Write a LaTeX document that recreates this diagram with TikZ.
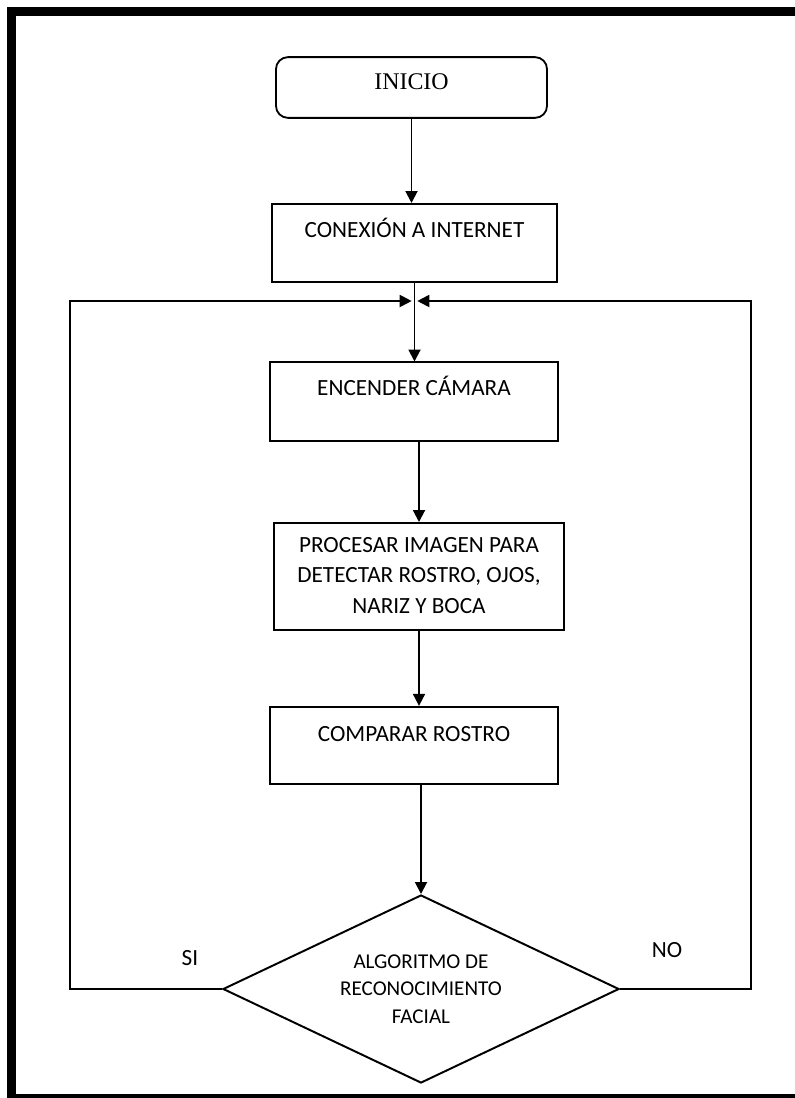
\documentclass[tikz,border=0pt]{standalone}
\usepackage{fontspec}
\setmainfont{Carlito}
\newfontfamily\inicioserif{Liberation Serif}
\usetikzlibrary{arrows.meta,shapes.geometric}
\tikzset{
  flow/.style={
    line width=1.4pt,
    line join=miter
  },
  flow-arrow/.style={
    flow,
    -{Triangle[length=8.5pt,width=8.5pt]}
  },
  box-start/.style={
    draw=black, line width=1.3pt, rounded corners=0.3cm,
    inner xsep=0pt, inner ysep=0pt,
    text height=23pt, text depth=20.2pt,
    font=\inicioserif\fontsize{17}{20}\selectfont
  },
  box-step/.style={
    draw=black, line width=1.4pt,
    inner xsep=0pt, inner ysep=0pt,
    text height=23.5pt, text depth=32pt,
    font=\fontsize{16.5}{21.6}\selectfont
  },
  box-decision/.style={
    diamond, draw=black, line width=1.4pt, aspect=2.1,
    minimum width=9.9cm, minimum height=4.7cm, inner sep=0pt,
    align=center, font=\fontsize{15}{19.5}\selectfont
  },
  tag/.style={font=\fontsize{16.5}{20}\selectfont, inner sep=0pt}
}

\begin{document}
\begin{tikzpicture}[x=0.025cm, y=-0.025cm]
  \fill[white] (0,0) rectangle (794.4,1098);
  \useasboundingbox (0,0) rectangle (794.4,1098);

  % outer frame (open on the right)
  \draw[line width=6.4pt] (805,11) -- (11.5,11) -- (11.5,1098) -- (805,1098);

  \node[box-start, minimum width=6.775cm] (inicio) at (411.5,87.5) {INICIO};
  \node[box-step, minimum width=7.125cm] (conexion) at (414.5,243) {CONEXIÓN A INTERNET};
  \node[box-step, minimum width=7.2cm] (camara) at (414,401.5) {ENCENDER CÁMARA};
  \node[box-step, minimum width=7.25cm, align=center,
        text height=64.2pt, text depth=11.9pt] (procesar) at (419,576.5)
        {PROCESAR IMAGEN PARA\\DETECTAR ROSTRO, OJOS,\\NARIZ Y BOCA};
  \node[box-step, minimum width=7.2cm, text height=24.5pt, text depth=30.5pt]
        (comparar) at (414,745.5) {COMPARAR ROSTRO};
  \node[box-decision] (algoritmo) at (421,989)
        {ALGORITMO DE\\RECONOCIMIENTO\\FACIAL};

  \node[tag] (si) at (190,958) {SI};
  \node[tag] (no) at (667,950) {NO};

  % main flow
  \draw[flow-arrow] (inicio.south) -- (inicio.south |- conexion.north);
  \draw[flow-arrow] (conexion.south) -- (conexion.south |- camara.north);
  \draw[flow-arrow] (procesar.north |- camara.south) -- (procesar.north);
  \draw[flow-arrow] (procesar.south) -- (procesar.south |- comparar.north);
  \draw[flow-arrow] (algoritmo.north |- comparar.south) -- (algoritmo.north);

  % return loops
  \coordinate (retorno) at (414.5,301);
  \coordinate (si-esq) at (70,989);
  \coordinate (no-esq) at (751,989);
  \draw[flow-arrow] (algoritmo.west) -- (si-esq) -- (si-esq |- retorno)
    -- ([xshift=-2pt]retorno);
  \draw[flow-arrow] (algoritmo.east) -- (no-esq) -- (no-esq |- retorno)
    -- ([xshift=2pt]retorno);

\end{tikzpicture}
\end{document}
